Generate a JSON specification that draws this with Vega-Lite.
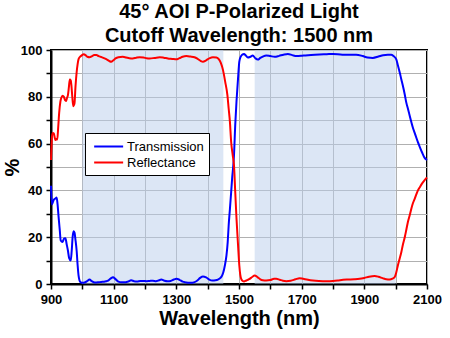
{
  "$schema": "https://vega.github.io/schema/vega-lite/v6.json",
  "width": 376,
  "height": 234,
  "autosize": {"type": "none"},
  "padding": {"left": 51, "top": 50, "right": 23, "bottom": 54},
  "background": "#ffffff",
  "config": {
    "font": "Liberation Sans",
    "view": {"stroke": "#000000", "strokeWidth": 2}
  },
  "title": {
    "text": ["45° AOI P-Polarized Light", "Cutoff Wavelength: 1500 nm"],
    "font": "Liberation Sans",
    "fontSize": 20,
    "fontWeight": "bold",
    "color": "#000000",
    "anchor": "middle",
    "lineHeight": 24,
    "offset": -2
  },
  "datasets": {
    "bands": [
      {"start": 1000, "end": 1450},
      {"start": 1550, "end": 2000}
    ],
    "spectra": [
      {"wl": 900, "pct": 42, "s": "Transmission"},
      {"wl": 903, "pct": 34, "s": "Transmission"},
      {"wl": 906, "pct": 35, "s": "Transmission"},
      {"wl": 909, "pct": 36, "s": "Transmission"},
      {"wl": 914, "pct": 36.5, "s": "Transmission"},
      {"wl": 918, "pct": 37, "s": "Transmission"},
      {"wl": 921, "pct": 34, "s": "Transmission"},
      {"wl": 924, "pct": 29, "s": "Transmission"},
      {"wl": 928, "pct": 23, "s": "Transmission"},
      {"wl": 931, "pct": 18.6, "s": "Transmission"},
      {"wl": 937, "pct": 18, "s": "Transmission"},
      {"wl": 942, "pct": 19.5, "s": "Transmission"},
      {"wl": 946, "pct": 19.6, "s": "Transmission"},
      {"wl": 950, "pct": 17, "s": "Transmission"},
      {"wl": 954, "pct": 14.3, "s": "Transmission"},
      {"wl": 958, "pct": 11, "s": "Transmission"},
      {"wl": 963, "pct": 10, "s": "Transmission"},
      {"wl": 966, "pct": 14, "s": "Transmission"},
      {"wl": 969, "pct": 20, "s": "Transmission"},
      {"wl": 972, "pct": 22.5, "s": "Transmission"},
      {"wl": 975, "pct": 22, "s": "Transmission"},
      {"wl": 978, "pct": 19, "s": "Transmission"},
      {"wl": 982, "pct": 14, "s": "Transmission"},
      {"wl": 985, "pct": 8, "s": "Transmission"},
      {"wl": 988, "pct": 3.6, "s": "Transmission"},
      {"wl": 991, "pct": 1.5, "s": "Transmission"},
      {"wl": 994, "pct": 0.8, "s": "Transmission"},
      {"wl": 1000, "pct": 0.5, "s": "Transmission"},
      {"wl": 1007, "pct": 0.6, "s": "Transmission"},
      {"wl": 1015, "pct": 1.2, "s": "Transmission"},
      {"wl": 1023, "pct": 1.9, "s": "Transmission"},
      {"wl": 1030, "pct": 1.2, "s": "Transmission"},
      {"wl": 1040, "pct": 0.6, "s": "Transmission"},
      {"wl": 1050, "pct": 0.7, "s": "Transmission"},
      {"wl": 1060, "pct": 0.9, "s": "Transmission"},
      {"wl": 1070, "pct": 1.0, "s": "Transmission"},
      {"wl": 1080, "pct": 1.3, "s": "Transmission"},
      {"wl": 1090, "pct": 2.3, "s": "Transmission"},
      {"wl": 1098, "pct": 2.9, "s": "Transmission"},
      {"wl": 1105, "pct": 2.2, "s": "Transmission"},
      {"wl": 1115, "pct": 1.0, "s": "Transmission"},
      {"wl": 1125, "pct": 0.7, "s": "Transmission"},
      {"wl": 1135, "pct": 0.7, "s": "Transmission"},
      {"wl": 1145, "pct": 1.0, "s": "Transmission"},
      {"wl": 1156, "pct": 1.6, "s": "Transmission"},
      {"wl": 1165, "pct": 1.2, "s": "Transmission"},
      {"wl": 1175, "pct": 1.1, "s": "Transmission"},
      {"wl": 1185, "pct": 1.3, "s": "Transmission"},
      {"wl": 1195, "pct": 1.3, "s": "Transmission"},
      {"wl": 1205, "pct": 1.2, "s": "Transmission"},
      {"wl": 1215, "pct": 1.3, "s": "Transmission"},
      {"wl": 1225, "pct": 1.4, "s": "Transmission"},
      {"wl": 1235, "pct": 1.2, "s": "Transmission"},
      {"wl": 1245, "pct": 1.6, "s": "Transmission"},
      {"wl": 1252, "pct": 1.9, "s": "Transmission"},
      {"wl": 1262, "pct": 1.4, "s": "Transmission"},
      {"wl": 1272, "pct": 1.2, "s": "Transmission"},
      {"wl": 1282, "pct": 1.3, "s": "Transmission"},
      {"wl": 1292, "pct": 1.9, "s": "Transmission"},
      {"wl": 1300, "pct": 2.2, "s": "Transmission"},
      {"wl": 1310, "pct": 1.8, "s": "Transmission"},
      {"wl": 1320, "pct": 1.0, "s": "Transmission"},
      {"wl": 1330, "pct": 0.7, "s": "Transmission"},
      {"wl": 1340, "pct": 0.5, "s": "Transmission"},
      {"wl": 1348, "pct": 0.5, "s": "Transmission"},
      {"wl": 1356, "pct": 0.7, "s": "Transmission"},
      {"wl": 1366, "pct": 1.4, "s": "Transmission"},
      {"wl": 1376, "pct": 2.6, "s": "Transmission"},
      {"wl": 1385, "pct": 3.2, "s": "Transmission"},
      {"wl": 1395, "pct": 2.8, "s": "Transmission"},
      {"wl": 1405, "pct": 1.9, "s": "Transmission"},
      {"wl": 1415, "pct": 1.5, "s": "Transmission"},
      {"wl": 1425, "pct": 1.6, "s": "Transmission"},
      {"wl": 1433, "pct": 1.9, "s": "Transmission"},
      {"wl": 1440, "pct": 2.5, "s": "Transmission"},
      {"wl": 1446, "pct": 3.6, "s": "Transmission"},
      {"wl": 1450, "pct": 5, "s": "Transmission"},
      {"wl": 1455, "pct": 8, "s": "Transmission"},
      {"wl": 1460, "pct": 12.2, "s": "Transmission"},
      {"wl": 1464, "pct": 18, "s": "Transmission"},
      {"wl": 1467, "pct": 25, "s": "Transmission"},
      {"wl": 1471, "pct": 32, "s": "Transmission"},
      {"wl": 1475, "pct": 39.3, "s": "Transmission"},
      {"wl": 1478, "pct": 45, "s": "Transmission"},
      {"wl": 1482, "pct": 51, "s": "Transmission"},
      {"wl": 1484, "pct": 55, "s": "Transmission"},
      {"wl": 1488, "pct": 68, "s": "Transmission"},
      {"wl": 1492, "pct": 78, "s": "Transmission"},
      {"wl": 1497, "pct": 88, "s": "Transmission"},
      {"wl": 1501, "pct": 95, "s": "Transmission"},
      {"wl": 1505, "pct": 97, "s": "Transmission"},
      {"wl": 1510, "pct": 98, "s": "Transmission"},
      {"wl": 1516, "pct": 98.3, "s": "Transmission"},
      {"wl": 1522, "pct": 97.6, "s": "Transmission"},
      {"wl": 1528, "pct": 96.8, "s": "Transmission"},
      {"wl": 1535, "pct": 97, "s": "Transmission"},
      {"wl": 1544, "pct": 97.6, "s": "Transmission"},
      {"wl": 1552, "pct": 96.5, "s": "Transmission"},
      {"wl": 1560, "pct": 95.9, "s": "Transmission"},
      {"wl": 1568, "pct": 96.6, "s": "Transmission"},
      {"wl": 1576, "pct": 97.2, "s": "Transmission"},
      {"wl": 1587, "pct": 97.7, "s": "Transmission"},
      {"wl": 1600, "pct": 97.4, "s": "Transmission"},
      {"wl": 1614, "pct": 97.1, "s": "Transmission"},
      {"wl": 1628, "pct": 97.5, "s": "Transmission"},
      {"wl": 1642, "pct": 98, "s": "Transmission"},
      {"wl": 1656, "pct": 98.3, "s": "Transmission"},
      {"wl": 1670, "pct": 97.8, "s": "Transmission"},
      {"wl": 1683, "pct": 97.4, "s": "Transmission"},
      {"wl": 1698, "pct": 97.5, "s": "Transmission"},
      {"wl": 1712, "pct": 97.7, "s": "Transmission"},
      {"wl": 1730, "pct": 97.9, "s": "Transmission"},
      {"wl": 1757, "pct": 98.1, "s": "Transmission"},
      {"wl": 1780, "pct": 98.2, "s": "Transmission"},
      {"wl": 1800, "pct": 98.3, "s": "Transmission"},
      {"wl": 1830, "pct": 98, "s": "Transmission"},
      {"wl": 1855, "pct": 98, "s": "Transmission"},
      {"wl": 1874, "pct": 98, "s": "Transmission"},
      {"wl": 1895, "pct": 97.4, "s": "Transmission"},
      {"wl": 1910, "pct": 96.8, "s": "Transmission"},
      {"wl": 1927, "pct": 96.6, "s": "Transmission"},
      {"wl": 1945, "pct": 97.2, "s": "Transmission"},
      {"wl": 1960, "pct": 97.8, "s": "Transmission"},
      {"wl": 1975, "pct": 98, "s": "Transmission"},
      {"wl": 1986, "pct": 98, "s": "Transmission"},
      {"wl": 1993, "pct": 97.4, "s": "Transmission"},
      {"wl": 2002, "pct": 96, "s": "Transmission"},
      {"wl": 2007, "pct": 93.5, "s": "Transmission"},
      {"wl": 2013, "pct": 90.4, "s": "Transmission"},
      {"wl": 2018, "pct": 87.5, "s": "Transmission"},
      {"wl": 2023, "pct": 84.7, "s": "Transmission"},
      {"wl": 2029, "pct": 81, "s": "Transmission"},
      {"wl": 2034, "pct": 77.5, "s": "Transmission"},
      {"wl": 2040, "pct": 74.5, "s": "Transmission"},
      {"wl": 2045, "pct": 71.8, "s": "Transmission"},
      {"wl": 2050, "pct": 69.2, "s": "Transmission"},
      {"wl": 2055, "pct": 66.8, "s": "Transmission"},
      {"wl": 2061, "pct": 64.5, "s": "Transmission"},
      {"wl": 2066, "pct": 62.5, "s": "Transmission"},
      {"wl": 2071, "pct": 60.6, "s": "Transmission"},
      {"wl": 2076, "pct": 58.9, "s": "Transmission"},
      {"wl": 2084, "pct": 56.3, "s": "Transmission"},
      {"wl": 2092, "pct": 54, "s": "Transmission"},
      {"wl": 2100, "pct": 53, "s": "Transmission"},
      {"wl": 900, "pct": 53, "s": "Reflectance"},
      {"wl": 902, "pct": 60, "s": "Reflectance"},
      {"wl": 903, "pct": 63, "s": "Reflectance"},
      {"wl": 906, "pct": 64.5, "s": "Reflectance"},
      {"wl": 909, "pct": 64.3, "s": "Reflectance"},
      {"wl": 912, "pct": 62.5, "s": "Reflectance"},
      {"wl": 914, "pct": 61.5, "s": "Reflectance"},
      {"wl": 917, "pct": 62, "s": "Reflectance"},
      {"wl": 920, "pct": 61.7, "s": "Reflectance"},
      {"wl": 923, "pct": 67, "s": "Reflectance"},
      {"wl": 926, "pct": 73, "s": "Reflectance"},
      {"wl": 930, "pct": 78, "s": "Reflectance"},
      {"wl": 933, "pct": 79.6, "s": "Reflectance"},
      {"wl": 937, "pct": 80.5, "s": "Reflectance"},
      {"wl": 941, "pct": 80, "s": "Reflectance"},
      {"wl": 945, "pct": 78.5, "s": "Reflectance"},
      {"wl": 948, "pct": 78.2, "s": "Reflectance"},
      {"wl": 951, "pct": 79.5, "s": "Reflectance"},
      {"wl": 954, "pct": 80.7, "s": "Reflectance"},
      {"wl": 957, "pct": 84, "s": "Reflectance"},
      {"wl": 960, "pct": 87.4, "s": "Reflectance"},
      {"wl": 963, "pct": 87, "s": "Reflectance"},
      {"wl": 965, "pct": 85, "s": "Reflectance"},
      {"wl": 968, "pct": 80, "s": "Reflectance"},
      {"wl": 971, "pct": 76, "s": "Reflectance"},
      {"wl": 973, "pct": 76.5, "s": "Reflectance"},
      {"wl": 975, "pct": 77.2, "s": "Reflectance"},
      {"wl": 978, "pct": 84, "s": "Reflectance"},
      {"wl": 982, "pct": 90.7, "s": "Reflectance"},
      {"wl": 985, "pct": 94, "s": "Reflectance"},
      {"wl": 988, "pct": 96.1, "s": "Reflectance"},
      {"wl": 992, "pct": 97, "s": "Reflectance"},
      {"wl": 997, "pct": 97.6, "s": "Reflectance"},
      {"wl": 1005, "pct": 98.2, "s": "Reflectance"},
      {"wl": 1010, "pct": 97.8, "s": "Reflectance"},
      {"wl": 1016, "pct": 97.1, "s": "Reflectance"},
      {"wl": 1023, "pct": 96.9, "s": "Reflectance"},
      {"wl": 1030, "pct": 97.3, "s": "Reflectance"},
      {"wl": 1038, "pct": 97.9, "s": "Reflectance"},
      {"wl": 1045, "pct": 97.9, "s": "Reflectance"},
      {"wl": 1052, "pct": 97.4, "s": "Reflectance"},
      {"wl": 1060, "pct": 97, "s": "Reflectance"},
      {"wl": 1071, "pct": 96.4, "s": "Reflectance"},
      {"wl": 1080, "pct": 95.8, "s": "Reflectance"},
      {"wl": 1087, "pct": 95.2, "s": "Reflectance"},
      {"wl": 1092, "pct": 95, "s": "Reflectance"},
      {"wl": 1099, "pct": 95.6, "s": "Reflectance"},
      {"wl": 1106, "pct": 96.4, "s": "Reflectance"},
      {"wl": 1115, "pct": 96.9, "s": "Reflectance"},
      {"wl": 1129, "pct": 97.1, "s": "Reflectance"},
      {"wl": 1140, "pct": 96.8, "s": "Reflectance"},
      {"wl": 1150, "pct": 96.5, "s": "Reflectance"},
      {"wl": 1161, "pct": 96.4, "s": "Reflectance"},
      {"wl": 1172, "pct": 96.7, "s": "Reflectance"},
      {"wl": 1183, "pct": 96.9, "s": "Reflectance"},
      {"wl": 1195, "pct": 96.8, "s": "Reflectance"},
      {"wl": 1205, "pct": 96.5, "s": "Reflectance"},
      {"wl": 1215, "pct": 96.4, "s": "Reflectance"},
      {"wl": 1230, "pct": 96.6, "s": "Reflectance"},
      {"wl": 1247, "pct": 96.9, "s": "Reflectance"},
      {"wl": 1260, "pct": 96.7, "s": "Reflectance"},
      {"wl": 1273, "pct": 96.4, "s": "Reflectance"},
      {"wl": 1287, "pct": 96.2, "s": "Reflectance"},
      {"wl": 1300, "pct": 96, "s": "Reflectance"},
      {"wl": 1310, "pct": 96.5, "s": "Reflectance"},
      {"wl": 1320, "pct": 97.1, "s": "Reflectance"},
      {"wl": 1332, "pct": 97.4, "s": "Reflectance"},
      {"wl": 1345, "pct": 97.2, "s": "Reflectance"},
      {"wl": 1358, "pct": 96.9, "s": "Reflectance"},
      {"wl": 1368, "pct": 96.2, "s": "Reflectance"},
      {"wl": 1378, "pct": 95.3, "s": "Reflectance"},
      {"wl": 1385, "pct": 95, "s": "Reflectance"},
      {"wl": 1395, "pct": 95.6, "s": "Reflectance"},
      {"wl": 1405, "pct": 96.4, "s": "Reflectance"},
      {"wl": 1417, "pct": 96.9, "s": "Reflectance"},
      {"wl": 1428, "pct": 96.8, "s": "Reflectance"},
      {"wl": 1436, "pct": 96, "s": "Reflectance"},
      {"wl": 1442, "pct": 94.5, "s": "Reflectance"},
      {"wl": 1449, "pct": 91.4, "s": "Reflectance"},
      {"wl": 1456, "pct": 86.4, "s": "Reflectance"},
      {"wl": 1463, "pct": 80.7, "s": "Reflectance"},
      {"wl": 1467, "pct": 75, "s": "Reflectance"},
      {"wl": 1471, "pct": 69.3, "s": "Reflectance"},
      {"wl": 1475, "pct": 60.7, "s": "Reflectance"},
      {"wl": 1480, "pct": 55, "s": "Reflectance"},
      {"wl": 1484, "pct": 50.7, "s": "Reflectance"},
      {"wl": 1488, "pct": 39.3, "s": "Reflectance"},
      {"wl": 1492, "pct": 28, "s": "Reflectance"},
      {"wl": 1497, "pct": 16.5, "s": "Reflectance"},
      {"wl": 1501, "pct": 7.9, "s": "Reflectance"},
      {"wl": 1504, "pct": 4, "s": "Reflectance"},
      {"wl": 1507, "pct": 2.2, "s": "Reflectance"},
      {"wl": 1512, "pct": 1.3, "s": "Reflectance"},
      {"wl": 1516, "pct": 1.1, "s": "Reflectance"},
      {"wl": 1522, "pct": 1.4, "s": "Reflectance"},
      {"wl": 1528, "pct": 1.8, "s": "Reflectance"},
      {"wl": 1534, "pct": 2.2, "s": "Reflectance"},
      {"wl": 1542, "pct": 3, "s": "Reflectance"},
      {"wl": 1550, "pct": 3.6, "s": "Reflectance"},
      {"wl": 1556, "pct": 3.3, "s": "Reflectance"},
      {"wl": 1562, "pct": 2.6, "s": "Reflectance"},
      {"wl": 1568, "pct": 2.0, "s": "Reflectance"},
      {"wl": 1576, "pct": 1.6, "s": "Reflectance"},
      {"wl": 1587, "pct": 1.5, "s": "Reflectance"},
      {"wl": 1600, "pct": 1.7, "s": "Reflectance"},
      {"wl": 1612, "pct": 2.2, "s": "Reflectance"},
      {"wl": 1619, "pct": 2.2, "s": "Reflectance"},
      {"wl": 1630, "pct": 1.8, "s": "Reflectance"},
      {"wl": 1640, "pct": 1.4, "s": "Reflectance"},
      {"wl": 1651, "pct": 1.2, "s": "Reflectance"},
      {"wl": 1665, "pct": 1.4, "s": "Reflectance"},
      {"wl": 1680, "pct": 2.0, "s": "Reflectance"},
      {"wl": 1693, "pct": 2.5, "s": "Reflectance"},
      {"wl": 1705, "pct": 2.2, "s": "Reflectance"},
      {"wl": 1720, "pct": 1.8, "s": "Reflectance"},
      {"wl": 1736, "pct": 1.5, "s": "Reflectance"},
      {"wl": 1755, "pct": 1.3, "s": "Reflectance"},
      {"wl": 1779, "pct": 1.2, "s": "Reflectance"},
      {"wl": 1800, "pct": 1.3, "s": "Reflectance"},
      {"wl": 1815, "pct": 1.5, "s": "Reflectance"},
      {"wl": 1832, "pct": 1.8, "s": "Reflectance"},
      {"wl": 1850, "pct": 1.9, "s": "Reflectance"},
      {"wl": 1868, "pct": 2.0, "s": "Reflectance"},
      {"wl": 1885, "pct": 2.2, "s": "Reflectance"},
      {"wl": 1900, "pct": 2.6, "s": "Reflectance"},
      {"wl": 1915, "pct": 3.1, "s": "Reflectance"},
      {"wl": 1933, "pct": 3.4, "s": "Reflectance"},
      {"wl": 1945, "pct": 3.1, "s": "Reflectance"},
      {"wl": 1958, "pct": 2.5, "s": "Reflectance"},
      {"wl": 1970, "pct": 2.0, "s": "Reflectance"},
      {"wl": 1981, "pct": 1.9, "s": "Reflectance"},
      {"wl": 1990, "pct": 2.3, "s": "Reflectance"},
      {"wl": 1997, "pct": 3.0, "s": "Reflectance"},
      {"wl": 2002, "pct": 5, "s": "Reflectance"},
      {"wl": 2007, "pct": 7.9, "s": "Reflectance"},
      {"wl": 2012, "pct": 10.5, "s": "Reflectance"},
      {"wl": 2018, "pct": 13.6, "s": "Reflectance"},
      {"wl": 2023, "pct": 16.8, "s": "Reflectance"},
      {"wl": 2029, "pct": 20, "s": "Reflectance"},
      {"wl": 2034, "pct": 23.2, "s": "Reflectance"},
      {"wl": 2039, "pct": 26.5, "s": "Reflectance"},
      {"wl": 2045, "pct": 29.5, "s": "Reflectance"},
      {"wl": 2050, "pct": 32.2, "s": "Reflectance"},
      {"wl": 2055, "pct": 34.5, "s": "Reflectance"},
      {"wl": 2061, "pct": 36.5, "s": "Reflectance"},
      {"wl": 2066, "pct": 38.3, "s": "Reflectance"},
      {"wl": 2071, "pct": 40, "s": "Reflectance"},
      {"wl": 2078, "pct": 41.6, "s": "Reflectance"},
      {"wl": 2084, "pct": 42.9, "s": "Reflectance"},
      {"wl": 2090, "pct": 44, "s": "Reflectance"},
      {"wl": 2095, "pct": 44.8, "s": "Reflectance"},
      {"wl": 2100, "pct": 45.5, "s": "Reflectance"}
    ]
  },
  "layer": [
    {
      "data": {"name": "bands"},
      "mark": {"type": "rect", "color": "#b9cdeb", "opacity": 0.5},
      "encoding": {
        "x": {"field": "start", "type": "quantitative", "scale": {"domain": [900, 2100], "nice": false, "zero": false}},
        "x2": {"field": "end"},
        "y": {"datum": 0, "type": "quantitative", "scale": {"domain": [0, 100], "nice": false}},
        "y2": {"datum": 100}
      }
    },
    {
      "data": {"name": "spectra"},
      "mark": {"type": "line", "strokeWidth": 2, "interpolate": "monotone"},
      "encoding": {
        "x": {
          "field": "wl",
          "type": "quantitative",
          "title": "Wavelength (nm)",
          "axis": {
            "grid": true,
            "gridColor": "#b0b0b0",
            "gridWidth": 1,
            "tickCount": 12,
            "labelExpr": "(datum.value - 900) % 200 == 0 ? '' + datum.value : ''",
            "labelFlush": false,
            "labelOverlap": false,
            "labelPadding": 4,
            "labelFont": "Liberation Sans",
            "labelFontSize": 13,
            "labelFontWeight": "bold",
            "labelColor": "#000000",
            "domainColor": "#000000",
            "domainWidth": 2,
            "tickColor": "#000000",
            "tickWidth": 1.5,
            "tickSize": 5,
            "titleFont": "Liberation Sans",
            "titleFontSize": 20,
            "titleFontWeight": "bold",
            "titleColor": "#000000",
            "titlePadding": 2
          }
        },
        "y": {
          "field": "pct",
          "type": "quantitative",
          "title": "%",
          "axis": {
            "grid": true,
            "gridColor": "#b0b0b0",
            "gridWidth": 1,
            "tickCount": 10,
            "labelExpr": "datum.value % 20 == 0 ? '' + datum.value : ''",
            "labelFlush": false,
            "labelOverlap": false,
            "labelPadding": 4,
            "labelFont": "Liberation Sans",
            "labelFontSize": 13,
            "labelFontWeight": "bold",
            "labelColor": "#000000",
            "domainColor": "#000000",
            "domainWidth": 2,
            "tickColor": "#000000",
            "tickWidth": 1.5,
            "tickSize": 5,
            "titleFont": "Liberation Sans",
            "titleFontSize": 20,
            "titleFontWeight": "bold",
            "titleColor": "#000000",
            "titleAngle": -90,
            "titleX": -39,
            "titleY": 117,
            "titleAlign": "center",
            "titleBaseline": "middle"
          }
        },
        "color": {
          "field": "s",
          "type": "nominal",
          "scale": {"domain": ["Transmission", "Reflectance"], "range": ["#0000ff", "#ff0000"]},
          "legend": {
            "orient": "none",
            "legendX": 34,
            "legendY": 83,
            "title": null,
            "symbolType": "M-0.6,0L3.4,0",
            "symbolSize": 210,
            "symbolStrokeWidth": 2,
            "labelFont": "Liberation Sans",
            "labelFontSize": 13,
            "labelColor": "#000000",
            "labelOffset": 20,
            "fillColor": "#ffffff",
            "strokeColor": "#000000",
            "padding": 5,
            "rowPadding": 0
          }
        },
        "order": {"field": "wl", "type": "quantitative"}
      }
    }
  ]
}
